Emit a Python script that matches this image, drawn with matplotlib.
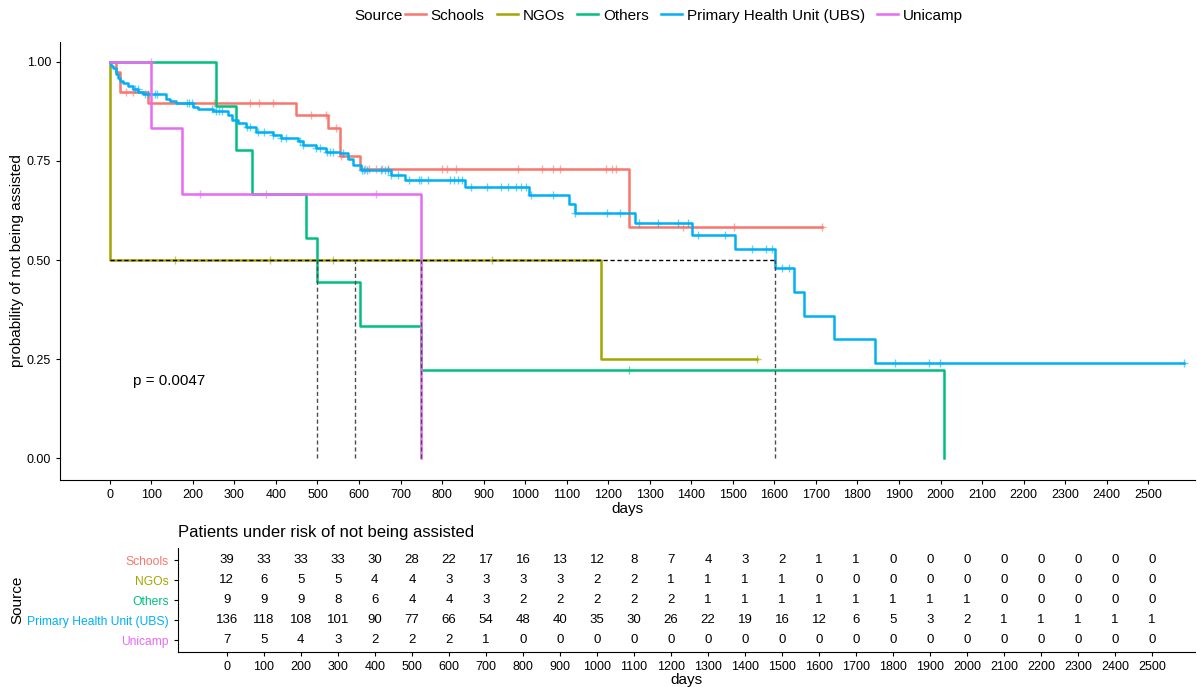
import numpy as np
import matplotlib
matplotlib.use("Agg")
import matplotlib.pyplot as plt

plt.rcParams["font.family"] = ["Liberation Sans", "DejaVu Sans"]

# ── Data ──────────────────────────────────────────────────
groups = ["Schools", "NGOs", "Others", "Primary Health Unit (UBS)", "Unicamp"]
colors = ["#F8766D", "#A3A500", "#00BF7D", "#00B0F6", "#E76BF3"]

# event times (days) and survival right after each event
schools_t = [14, 24, 92, 449, 525, 553, 603, 1251]
schools_s = [0.974, 0.923, 0.897, 0.867, 0.834, 0.763, 0.730, 0.583]
schools_cens = [38, 56, 250, 337, 359, 393, 485, 520, 545, 556, 615, 625, 640, 655, 670,
                800, 812, 834, 982, 1041, 1068, 1083, 1195, 1209, 1219, 1379, 1502, 1715]

ngos_t = [1, 1183]
ngos_s = [0.5, 0.25]
ngos_cens = [156, 385, 537, 921, 1559]

others_t = [255, 305, 343, 473, 499, 603, 750, 2009]
others_s = [0.889, 0.778, 0.667, 0.556, 0.444, 0.333, 0.222, 0.0]
others_cens = [1251]

ubs_t = [3, 8, 14, 20, 24, 32, 44, 56, 68, 80, 136, 144, 160, 200, 212, 248, 285, 293,
         309, 329, 353, 393, 413, 453, 465, 497, 521, 553, 573, 585, 605, 678, 710, 854,
         1009, 1105, 1119, 1265, 1402, 1504, 1601, 1647, 1672, 1744, 1843]
ubs_s = [0.990, 0.984, 0.968, 0.960, 0.952, 0.946, 0.939, 0.931, 0.925, 0.919, 0.906,
         0.900, 0.896, 0.887, 0.880, 0.875, 0.866, 0.854, 0.845, 0.835, 0.824, 0.816,
         0.807, 0.799, 0.790, 0.782, 0.773, 0.769, 0.754, 0.740, 0.727, 0.715, 0.702,
         0.685, 0.664, 0.641, 0.619, 0.594, 0.563, 0.527, 0.479, 0.420, 0.359, 0.300, 0.239]
ubs_cens = [60, 67, 84, 91, 108, 113, 185, 190, 197, 245, 255, 262, 270, 330, 337, 356,
            372, 393, 413, 425, 457, 465, 497, 505, 522, 530, 537, 561, 606, 612, 618,
            654, 662, 670, 678, 693, 720, 744, 750, 765, 820, 828, 838, 847, 870, 907,
            943, 958, 977, 991, 1003, 1013, 1068, 1121, 1196, 1229, 1275, 1321, 1369,
            1391, 1415, 1480, 1547, 1581, 1595, 1619, 1636, 1891, 1973, 1999, 2587]

unicamp_t = [100, 174, 750]
unicamp_s = [0.833, 0.667, 0.0]
unicamp_cens = [98, 216, 375, 641]

medians = [591.5, 499, 1601, 750]
p_text = "p = 0.0047"

risk_times = list(range(0, 2600, 100))
risk_schools = [39, 33, 33, 33, 30, 28, 22, 17, 16, 13, 12, 8, 7, 4, 3, 2, 1, 1, 0, 0, 0, 0, 0, 0, 0, 0]
risk_ngos = [12, 6, 5, 5, 4, 4, 3, 3, 3, 3, 2, 2, 1, 1, 1, 1, 0, 0, 0, 0, 0, 0, 0, 0, 0, 0]
risk_others = [9, 9, 9, 8, 6, 4, 4, 3, 2, 2, 2, 2, 2, 1, 1, 1, 1, 1, 1, 1, 1, 0, 0, 0, 0, 0]
risk_ubs = [136, 118, 108, 101, 90, 77, 66, 54, 48, 40, 35, 30, 26, 22, 19, 16, 12, 6, 5, 3, 2, 1, 1, 1, 1, 1]
risk_unicamp = [7, 5, 4, 3, 2, 2, 2, 1, 0, 0, 0, 0, 0, 0, 0, 0, 0, 0, 0, 0, 0, 0, 0, 0, 0, 0]

curves = [(schools_t, schools_s, schools_cens), (ngos_t, ngos_s, ngos_cens),
          (others_t, others_s, others_cens), (ubs_t, ubs_s, ubs_cens),
          (unicamp_t, unicamp_s, unicamp_cens)]
risks = [risk_schools, risk_ngos, risk_others, risk_ubs, risk_unicamp]

# ── Figure ────────────────────────────────────
fig = plt.figure(figsize=(11.97, 6.87), dpi=100)
ax = fig.add_axes([0.0501, 0.3013, 0.948, 0.6376])

handles = []
for (t, s, cens), col, name in zip(curves, colors, groups):
    end = max(t[-1], max(cens))
    tt = np.array([0] + t + [end])
    ss = np.array([1.0] + s + [s[-1]])
    h, = ax.step(tt, ss, where="post", color=col, lw=1.8, label=name)
    handles.append(h)
    et = np.array([0] + t)
    es = np.array([1.0] + s)
    cy = es[np.searchsorted(et, cens, side="right") - 1]
    ax.plot(cens, cy, ls="none", marker="+", ms=6, mew=1.0, color=col, alpha=0.6)

# median lines
ax.plot([0, max(medians)], [0.5, 0.5], ls=(0, (3, 2)), color="black", lw=1.0)
for m in medians:
    ax.plot([m, m], [0, 0.5], ls=(0, (3, 2)), color="0.3", lw=1.0)

ax.text(55, 0.194, p_text, fontsize=11, ha="left", va="center")

ax.set_xlim(-120, 2612)
ax.set_ylim(-0.055, 1.05)
ax.set_xticks(risk_times)
ax.set_xticklabels([str(v) for v in risk_times], fontsize=9)
ax.set_yticks([0, 0.25, 0.5, 0.75, 1.0])
ax.set_yticklabels(["0.00", "0.25", "0.50", "0.75", "1.00"], fontsize=9)
ax.set_xlabel("days", fontsize=11, labelpad=1)
ax.set_ylabel("probability of not being assisted", fontsize=11, labelpad=2)
for sp in ["top", "right"]:
    ax.spines[sp].set_visible(False)
ax.tick_params(direction="out", length=3, width=0.8)

# legend on top
fig.text(0.3365, 0.977, "Source", fontsize=11, ha="right", va="center")
fig.legend(handles=handles, labels=groups, loc="center left", bbox_to_anchor=(0.3383, 0.977),
           ncol=5, frameon=False, fontsize=11, handlelength=1.36, handletextpad=0.33,
           columnspacing=0.8, borderpad=0.0, borderaxespad=0.0)

# ── Risk table ─────────────────────────────────
ax2 = fig.add_axes([0.1487, 0.0509, 0.8496, 0.1514])
for i, (r, col) in enumerate(zip(risks, colors)):
    y = 5 - i
    for tv, n in zip(risk_times, r):
        ax2.text(tv, y, str(n), ha="center", va="center", fontsize=9.5)
ax2.set_xlim(-132, 2616)
ax2.set_ylim(0.4, 5.6)
ax2.set_yticks([5, 4, 3, 2, 1])
ax2.set_yticklabels(groups, fontsize=8.7)
for lab, col in zip(ax2.get_yticklabels(), colors):
    lab.set_color(col)
ax2.set_xticks(risk_times)
ax2.set_xticklabels([str(v) for v in risk_times], fontsize=9)
ax2.set_xlabel("days", fontsize=11, labelpad=0)
ax2.set_ylabel("Source", fontsize=11)
ax2.yaxis.set_label_coords(-0.151, 0.5)
ax2.set_title("Patients under risk of not being assisted", loc="left", fontsize=12, pad=8)
for sp in ["top", "right"]:
    ax2.spines[sp].set_visible(False)
ax2.tick_params(direction="out", length=3, width=0.8)

fig.savefig("out.png", dpi=100)
